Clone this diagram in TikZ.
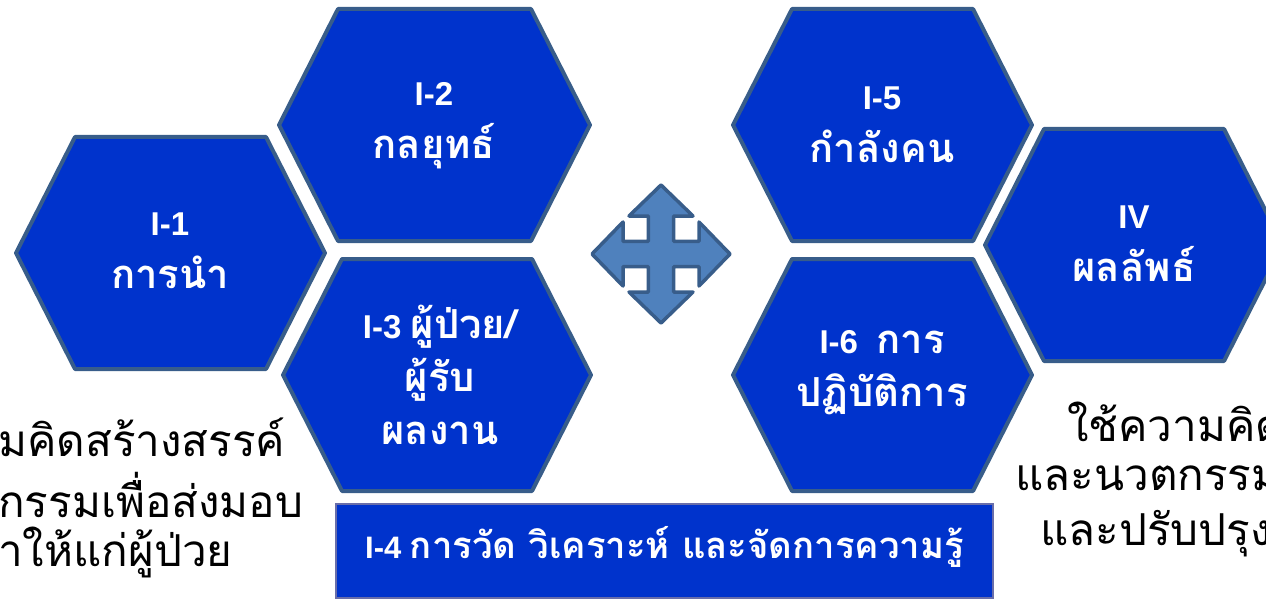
\documentclass[tikz,border=0pt]{standalone}
\usepackage{fontspec}
\setmainfont{Liberation Sans}
\newfontfamily\thaifont[Script=Thai]{Loma}
\newcommand\tht[1]{{\thaifont\fontsize{40}{53}\selectfont #1}}
\newcommand\thb[1]{{\thaifont\fontsize{36.5}{53}\selectfont #1}}
\definecolor{hexfill}{RGB}{0,51,204}
\definecolor{hexline}{RGB}{56,93,138}
\definecolor{arrfill}{RGB}{79,129,189}
\definecolor{boxline}{RGB}{105,110,170}
\tikzset{
  hexshape/.style={fill=hexfill, draw=hexline, line width=4pt, line join=round},
  hextext/.style={text=white, font=\bfseries\fontsize{33}{53}\selectfont, align=center, inner sep=0pt},
  bigtext/.style={text=black, font=\thaifont\fontsize{44}{56}\selectfont, inner sep=0pt},
  movearrow/.style={fill=arrfill, draw=hexline, line width=3.5pt, line join=round},
  barbox/.style={fill=hexfill, draw=boxline, line width=2pt}
}
\newcommand\hexat[3]{\draw[hexshape] (#1,#2) ++(-#3,0) -- ++(59,-116) -- ++({2*#3-118},0) -- ++(59,116) -- ++(-59,116) -- ++({118-2*#3},0) -- cycle;}
\begin{document}
\begin{tikzpicture}[x=1pt,y=-1pt]
\useasboundingbox (0,0) rectangle (1266,599);
% hexagons
\hexat{170.5}{253}{154.5}
\hexat{434.5}{125}{155.5}
\hexat{437}{375}{154}
\hexat{882.5}{125}{149.5}
\hexat{882.5}{375}{149.5}
\hexat{1134}{245}{149}
% texts in hexagons
\node[hextext] (i1) at (170,251) {I-1\\\tht{การนำ}};
\node[hextext] (i2) at (434,126) {I-2\\\tht{กลยุทธ์}};
\node[hextext] (i3) at (440,375) {I-3 \tht{ผู้ป่วย/}\\\tht{ผู้รับ}\\\tht{ผลงาน}};
\node[hextext] (i5) at (882,125) {I-5\\\tht{กำลังคน}};
\node[hextext] (i6) at (882,373) {I-6\ \ \tht{การ}\\\tht{ปฏิบัติการ}};
\node[hextext] (iv) at (1134,244) {IV\\\tht{ผลลัพธ์}};
% four-way arrow
\draw[movearrow] (661,254)
  ++(0,-69) -- ++(-32,31) -- ++(19.3,0) -- ++(0,25.3) -- ++(-25.3,0) -- ++(0,-19.3)
  -- ++(-31,32) -- ++(31,32) -- ++(0,-19.3) -- ++(25.3,0) -- ++(0,25.3) -- ++(-19.3,0)
  -- ++(32,31) -- ++(32,-31) -- ++(-19.3,0) -- ++(0,-25.3) -- ++(25.3,0) -- ++(0,19.3)
  -- ++(31,-32) -- ++(-31,-32) -- ++(0,19.3) -- ++(-25.3,0) -- ++(0,-25.3) -- ++(19.3,0) -- cycle;
\coordinate (arrowc) at (661,254);
% bottom bar
\node[barbox, minimum width=657pt, minimum height=94pt, anchor=north west] (i4) at (335,503) {};
\node[hextext, anchor=center, font=\bfseries\fontsize{31}{53}\selectfont] (i4t) at ([yshift=4pt]i4.center) {I-4 \thb{การวัด วิเคราะห์ และจัดการความรู้}};
% side texts
\node[bigtext, anchor=west] (l1) at (-2,437) {มคิดสร้างสรรค์};
\node[bigtext, anchor=west] (l2) at (-2,495) {กรรมเพื่อส่งมอบ};
\node[bigtext, anchor=west] (l3) at (-2,552) {าให้แก่ผู้ป่วย};
\node[bigtext, anchor=west] (r1) at (1067,422) {ใช้ความคิด};
\node[bigtext, anchor=west] (r2) at (1015,478) {และนวตกรรม};
\node[bigtext, anchor=west] (r3) at (1040,534) {และปรับปรุง};
\end{tikzpicture}
\end{document}
